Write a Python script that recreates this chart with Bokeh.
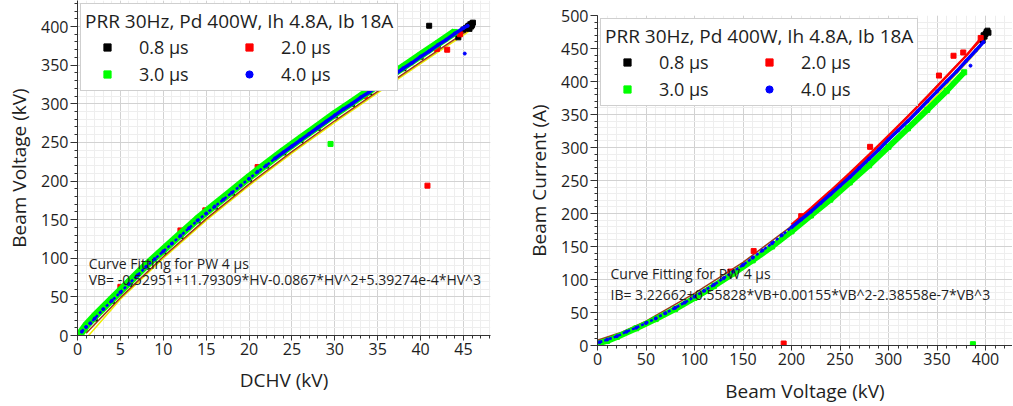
from bokeh.plotting import figure
from bokeh.models import Range1d, Legend, LegendItem, Label, SingleIntervalTicker
from bokeh.layouts import row, column
from bokeh.embed import file_html
from bokeh.resources import INLINE

FONT = "Open Sans"
TXT = "#1e1e1e"

# ---------------- data: left panel (DCHV vs Beam Voltage) ----------------
L_title = "PRR 30Hz, Pd 400W, Ih 4.8A, Ib 18A"
L_fit_1 = "Curve Fitting for PW 4 \u03bcs"
L_fit_2 = "VB= -0.52951+11.79309*HV-0.0867*HV^2+5.39274e-4*HV^3"

l_blue_x = [0.5, 1, 1.5, 2, 3, 4, 5, 6, 7, 8, 9, 10, 11, 12, 13, 14, 15, 16, 17, 18, 19, 20, 21, 22,
            23, 24, 25, 26, 27, 28, 29, 30, 31, 32, 33, 34, 35, 36, 37, 38, 39, 40, 41, 42, 43, 44, 45, 45.5]
l_blue_y = [5, 11, 16, 22, 34, 45, 56, 67, 78, 89, 99, 109, 119, 129, 139, 149, 158, 167, 176, 185, 194,
            203, 212, 220, 229, 237, 245, 253, 261, 269, 277, 285, 293, 300, 308, 315, 323, 331, 338, 346,
            353, 361, 368, 376, 383, 391, 398, 401]
l_green_x = [0.3, 1, 2, 4, 6, 8, 10, 12, 14, 16, 18, 20, 22, 24, 26, 28, 30, 32, 34, 36, 38, 40, 42, 44]
l_green_y = [2, 13, 25, 47, 69, 91, 111, 131, 151, 169, 187, 205, 222, 239, 255, 271, 287, 302, 317,
             333, 348, 363, 378, 393]
l_black_x = [0.8, 2, 4, 6, 8, 10, 12, 14, 16, 18, 20, 22, 24, 26, 28, 30, 32, 34, 36, 38, 40, 42, 44,
             45, 45.5, 46, 45.3, 45.6, 45.8, 46.0, 46.1, 45.9, 45.7, 41.0, 44.4]
l_black_y = [9, 22, 45, 67, 89, 109, 129, 149, 167, 185, 203, 220, 237, 253, 269, 285, 300, 315, 331,
             346, 361, 376, 391, 396, 400, 404, 398, 401, 403, 402, 405, 400, 397, 401, 386]
l_red_x = [5.0, 12.0, 14.9, 21.0, 33.5, 41.9, 43.1, 40.8, 44.6]
l_red_y = [63, 136, 162, 218, 310, 371, 370, 194, 390]
l_green_px = [29.5]
l_green_py = [248]
l_blue_px = [45.15]
l_blue_py = [365]
l_brown_x = [1, 5, 10, 15, 20, 25, 30, 35, 40, 45, 46]
l_brown_y = [3, 49, 102, 151, 196, 238, 278, 316, 354, 391, 399]
l_yellow_x = [1.3, 5, 10, 15, 20, 25, 30, 35, 40, 45, 46]
l_yellow_y = [0, 47, 100, 149, 194, 236, 276, 314, 352, 389, 397]

# ---------------- data: right panel (Beam Voltage vs Beam Current) ----------------
R_title = "PRR 30Hz, Pd 400W, Ih 4.8A, Ib 18A"
R_fit_1 = "Curve Fitting for PW 4 \u03bcs"
R_fit_2 = "IB= 3.22662+0.55828*VB+0.00155*VB^2-2.38558e-7*VB^3"

r_blue_x = [2, 10, 20, 30, 40, 50, 60, 70, 80, 90, 100, 110, 120, 130, 140, 150, 160, 170, 180, 190,
            200, 210, 220, 230, 240, 250, 260, 270, 280, 290, 300, 310, 320, 330, 340, 350, 360, 370,
            380, 390, 398]
r_blue_y = [5, 9, 14, 21, 27, 34, 41, 49, 57, 65, 74, 83, 92, 102, 112, 122, 133, 144, 155, 167, 179,
            191, 203, 216, 229, 242, 255, 269, 283, 297, 312, 326, 340, 355, 370, 385, 400, 415, 431,
            447, 460]
r_red_line_x = [200, 220, 240, 260, 280, 300, 320, 340, 360, 380, 395]
r_red_line_y = [183, 208, 234, 261, 289, 318, 347, 377, 408, 439, 465]
r_red_x = [191.9, 161, 367, 377, 281, 137, 352, 395, 210]
r_red_y = [3, 143, 439, 444, 301, 112, 409, 466, 196]
r_green_x = [0, 10, 20, 40, 60, 80, 100, 120, 140, 160, 180, 200, 220, 240, 260, 280, 300, 320, 340,
             360, 378]
r_green_y = [3, 7, 13, 26, 40, 55, 72, 90, 109, 129, 150, 173, 197, 221, 247, 273, 301, 329, 357,
             386, 414]
r_green_px = [387]
r_green_py = [2]
r_black_x = [396, 398, 400, 401, 402, 403, 399, 397]
r_black_y = [465, 470, 472, 475, 477, 474, 468, 462]
r_blue_px = [384.5]
r_blue_py = [424]
r_brown_x = [0, 25, 50, 100, 150, 200, 250, 300, 350, 400]
r_brown_y = [8, 20, 37, 79, 126, 181, 245, 317, 393, 470]
r_yellow_x = [5, 25, 50, 100, 150, 200, 250, 300, 350, 395]
r_yellow_y = [3, 14, 30, 70, 116, 170, 232, 302, 379, 452]

legend_labels = ["0.8 \u03bcs", "2.0 \u03bcs", "3.0 \u03bcs", "4.0 \u03bcs"]
C_BLACK, C_RED, C_GREEN, C_BLUE = "#000000", "#ff0000", "#00ff00", "#0000ff"
C_BROWN, C_YELLOW = "#9b3a1a", "#eeee00"


def make(width, height, xr, yr, xstep, ystep, xlabel, ylabel, borders, xlab_standoff):
    p = figure(width=width, height=height, output_backend="svg", toolbar_location=None,
               x_range=Range1d(*xr), y_range=Range1d(*yr),
               min_border_left=borders[0], min_border_right=borders[1],
               min_border_top=borders[2], min_border_bottom=borders[3])
    p.outline_line_color = None
    p.xaxis.ticker = SingleIntervalTicker(interval=xstep, num_minor_ticks=5)
    p.yaxis.ticker = SingleIntervalTicker(interval=ystep, num_minor_ticks=5)
    p.xaxis.axis_label = xlabel
    p.yaxis.axis_label = ylabel
    for ax in (p.xaxis[0], p.yaxis[0]):
        ax.axis_label_text_font = FONT
        ax.axis_label_text_font_size = "19px"
        ax.axis_label_text_font_style = "normal"
        ax.axis_label_text_color = TXT
        ax.major_label_text_font = FONT
        ax.major_label_text_font_size = "16px"
        ax.major_label_text_color = TXT
        ax.axis_line_color = "#333333"
        ax.major_tick_line_color = "#333333"
        ax.minor_tick_line_color = "#333333"
        ax.major_tick_in = 0
        ax.minor_tick_in = 0
        ax.minor_tick_out = 3
        ax.major_label_standoff = 2
    p.xaxis.major_tick_out = 5
    p.yaxis.major_tick_out = 7
    p.xaxis.axis_label_standoff = xlab_standoff
    p.yaxis.axis_label_standoff = 6
    p.grid.grid_line_color = "#d2d2d2"
    p.grid.minor_grid_line_color = "#eeeeee"
    return p


def draw(p, d, title, fit1, fit2, fitpos, green_w):
    p.line(d["yellow"][0], d["yellow"][1], line_color=C_YELLOW, line_width=1.5)
    p.line(d["brown"][0], d["brown"][1], line_color=C_BROWN, line_width=1.5)
    rk = p.scatter(d["black"][0], d["black"][1], marker="square", size=5, color=C_BLACK)
    if "redline" in d:
        p.line(d["redline"][0], d["redline"][1], line_color=C_RED, line_width=2.5)
    rr = p.scatter(d["red"][0], d["red"][1], marker="square", size=5, color=C_RED)
    p.line(d["green"][0], d["green"][1], line_color=C_GREEN, line_width=green_w)
    rg = p.scatter(d["green"][0] + d["greenp"][0], d["green"][1] + d["greenp"][1],
                   marker="square", size=5, color=C_GREEN)
    bx, by = d["blue"]
    h = len(bx) // 2
    p.line(bx[:h + 1], by[:h + 1], line_color=C_BLUE, line_width=2.5, line_dash="3 2")
    p.line(bx[h:], by[h:], line_color=C_BLUE, line_width=3.5)
    rb = p.scatter(bx + d["bluep"][0], by + d["bluep"][1], marker="circle", size=3, color=C_BLUE)
    items = [LegendItem(label=legend_labels[i], renderers=[r]) for i, r in enumerate([rk, rr, rg, rb])]
    leg = Legend(items=items, title=title, location="top_left", orientation="horizontal", ncols=2,
                 title_text_font=FONT, title_text_font_size="19px", title_text_font_style="normal",
                 title_text_color=TXT, title_standoff=1,
                 label_text_font=FONT, label_text_font_size="18px", label_text_color=TXT,
                 glyph_width=44, glyph_height=18, label_standoff=10, label_height=18, label_width=85,
                 spacing=3, padding=4, margin=3, border_line_color="#a0a0a0",
                 background_fill_color="white", background_fill_alpha=1.0)
    p.add_layout(leg)
    for (txt, (x, y)) in zip((fit1, fit2), fitpos):
        p.add_layout(Label(x=x, y=y, text=txt, text_font=FONT, text_font_size="14px",
                           text_color=TXT, text_baseline="alphabetic"))


# left: frame 77..490 x 0..335
p1 = make(505, 406, (0, 48.15), (0, 433.7), 5, 50, "DCHV (kV)", "Beam Voltage (kV)", (77, 15, 0, 71), 9)
draw(p1, {"yellow": (l_yellow_x, l_yellow_y), "brown": (l_brown_x, l_brown_y),
          "black": (l_black_x, l_black_y),
          "red": (l_red_x, l_red_y),
          "green": (l_green_x, l_green_y), "greenp": (l_green_px, l_green_py),
          "blue": (l_blue_x, l_blue_y), "bluep": (l_blue_px, l_blue_py)},
     L_title, L_fit_1, L_fit_2, [(1.3, 92.8), (1.3, 72.0)], 8)

# right: frame 597..1012 x 15..348
p2 = make(507, 406, (0, 427.8), (0, 500), 50, 50, "Beam Voltage (kV)", "Beam Current (A)",
          (92, 0, 15, 58), 10)
draw(p2, {"yellow": (r_yellow_x, r_yellow_y), "brown": (r_brown_x, r_brown_y),
          "black": (r_black_x, r_black_y),
          "redline": (r_red_line_x, r_red_line_y), "red": (r_red_x, r_red_y),
          "green": (r_green_x, r_green_y), "greenp": (r_green_px, r_green_py),
          "blue": (r_blue_x, r_blue_y), "bluep": (r_blue_px, r_blue_py)},
     R_title, R_fit_1, R_fit_2, [(13.4, 108.4), (13.4, 77.3)], 6)

layout = row(column(p1), column(p2))
open("out.html", "w").write(file_html(layout, INLINE))
